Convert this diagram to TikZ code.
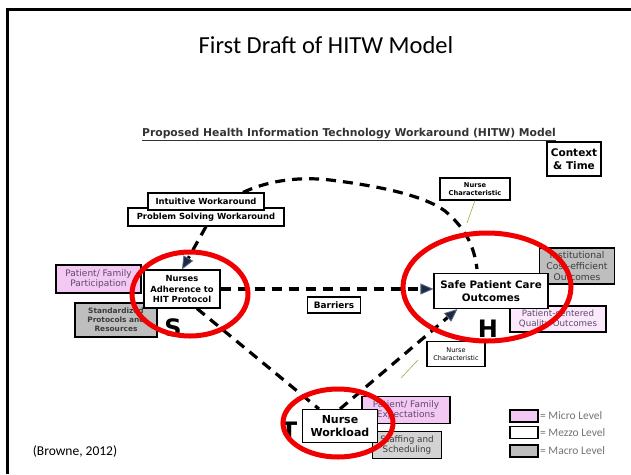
\documentclass[tikz,border=0pt]{standalone}
\usepackage{fontspec}
\setmainfont{Carlito}
\newfontfamily\verd{DejaVu Sans}
\usetikzlibrary{arrows.meta,shadows}
\definecolor{Micro}{HTML}{F3C8F3}
\definecolor{MicroLight}{HTML}{FBE8FB}
\definecolor{Macro}{HTML}{BEBEBE}
\definecolor{MacroLight}{HTML}{D3D3D3}
\definecolor{MicroText}{HTML}{5E4B6B}
\definecolor{MacroText}{HTML}{3C3C3C}
\definecolor{Navy}{HTML}{1B2A48}
\definecolor{Ring}{HTML}{F00000}
\definecolor{Olive}{HTML}{A8A830}
\newcommand\fsz[1]{\fontsize{#1}{\fpeval{1.2*#1}}\selectfont}
\tikzset{
style1/.style= {draw, line width=1.1pt, fill=white, align=center, inner sep=0pt,
  font=\verd\bfseries\fsz{#1}, drop shadow={shadow xshift=0.8pt,shadow yshift=-0.8pt,fill=black!45}},
style1/.default=8.4,
style2/.style= {style1, fill=Micro, text=MicroText, font=\verd\fsz{#1}},
style2/.default=9,
style3/.style= {style1, fill=Macro, text=MacroText, font=\verd\fsz{#1}},
style3/.default=9.2,
letter/.style= {font=\verd\bfseries\fontsize{24}{24}\selectfont},
link/.style= {line width=3.2pt, dash pattern=on 10pt off 7pt},
tip/.style= {-{Triangle[length=13pt,width=11pt,line width=0.8pt,fill=Navy,color=Navy!70]}},
thinline/.style= {draw=Olive, line width=0.6pt},
ring/.style= {draw=Ring, line width=5pt}
}

\begin{document}
\begin{tikzpicture}[x=1pt,y=-1pt]
\useasboundingbox (0,0) rectangle (631,474);
% slide frame and titles
\draw[line width=3pt] (631,9) -- (7,9) -- (7,474);
\node[font=\fontsize{24.5}{28}\selectfont] (title) at (326,45) {First Draft of HITW Model};
\node[font=\fontsize{13.5}{15}\selectfont] (cite) at (75,451) {(Browne, 2012)};
\node[font=\verd\bfseries\fsz{10.8}, text=black!80] (head) at (349,135)
  {\underline{Proposed Health Information Technology Workaround (HITW) Model}};
\node[style1=10.5, minimum width=54pt, minimum height=34pt] (ctx) at (574,159) {Context\\\& Time};

% workaround and characteristic boxes
\node[style1=6.7, minimum width=70pt, minimum height=22pt] (c0) at (475,189) {Nurse\\Characteristic};
\node[style1, minimum width=156pt, minimum height=18pt] (c02) at (206,217) {Problem Solving Workaround};
\node[style1, minimum width=116pt, minimum height=17pt] (c01) at (206,201.5) {Intuitive Workaround};

% adherence
\node[style2, minimum width=85pt, minimum height=28pt] (c11) at (98.5,279) {Patient/ Family\\Participation};
\node[style3, font=\verd\bfseries\fsz{7.4}, minimum width=82pt, minimum height=34pt] (c12) at (116,320) {Standardized\\Protocols and\\Resources};
\node[style1, minimum width=76pt, minimum height=38pt] (c1) at (182,289) {Nurses\\Adherence to\\HIT Protocol};

% outcomes
\node[style3, minimum width=75pt, minimum height=36pt] (c21) at (577,266) {Institutional\\Cost-efficient\\Outcomes};
\node[style2=8.7, fill=MicroLight, minimum width=96pt, minimum height=26pt] (c22) at (558,319) {Patient-centered\\Quality Outcomes};
\node[style1=10.3, minimum width=114pt, minimum height=35pt] (c2) at (491,291) {Safe Patient Care\\Outcomes};
\node[style1, font=\verd\fsz{6.5}, minimum width=58pt, minimum height=25pt] (c23) at (456,354) {Nurse\\Characteristic};

% workload
\node[style2, minimum width=88pt, minimum height=27pt] (c31) at (406,410) {Patient/ Family\\Expectations};
\node[style3=8.8, fill=MacroLight, minimum width=69pt, minimum height=27pt] (c32) at (407,445) {Staffing and\\Scheduling};
\node[style1=11, minimum width=75pt, minimum height=33pt] (c3) at (340,426) {Nurse\\Workload};

\node[style1=8.9, minimum width=53pt, minimum height=16pt] (barrier) at (334,305) {Barriers};

% legend
\foreach \lvl/\y/\name/\sty in {micro/416/Micro/style2, mezzo/432.5/Mezzo/style1, macro/451/Macro/style3}{
  \node[\sty, line width=1.8pt, minimum width=28pt, minimum height=12pt] (\lvl) at (524,\y) {};
  \node[anchor=west, text=black!55, inner sep=1pt, font=\fontsize{11.5}{13}\selectfont] at (\lvl.east) {= \name\ Level};
}

\node[letter] (s) at (173,328) {S};
\node[letter] (h) at (488,329) {H};
\node[letter] (t) at (289,431) {T};

% connectors
\coordinate (topend) at (477,269);
\coordinate (charend) at (467,223);
\coordinate (tickA) at (418,360);
\coordinate (tickB) at (401,378);
\draw[link] ([xshift=37pt]c01.north) .. controls (265,182) and (295,176) .. (330,180)
  .. controls (380,186) and (425,196) .. (445,211)
  .. controls (465,228) and (474,245) .. (topend);
\draw[thinline] (c0.south) -- (charend);
\draw[thinline] (tickA) -- (tickB);
\draw[link,tip] (c02.south) -- (c1.north);
\draw[link,tip] (c1.east) -- (c1.east -| c2.west);
\draw[link] ([xshift=15pt]c1.south) -- ([xshift=17pt]c3.north west);
\draw[link,tip] (c3.north) -- ([xshift=24pt]c2.south west);

% red rings
\draw[ring] (190,294) ellipse [x radius=58, y radius=42];
\draw[ring] (487,287) ellipse [x radius=84, y radius=54];
\draw[ring] (338,423) ellipse [x radius=55, y radius=34];
\end{tikzpicture}
\end{document}
